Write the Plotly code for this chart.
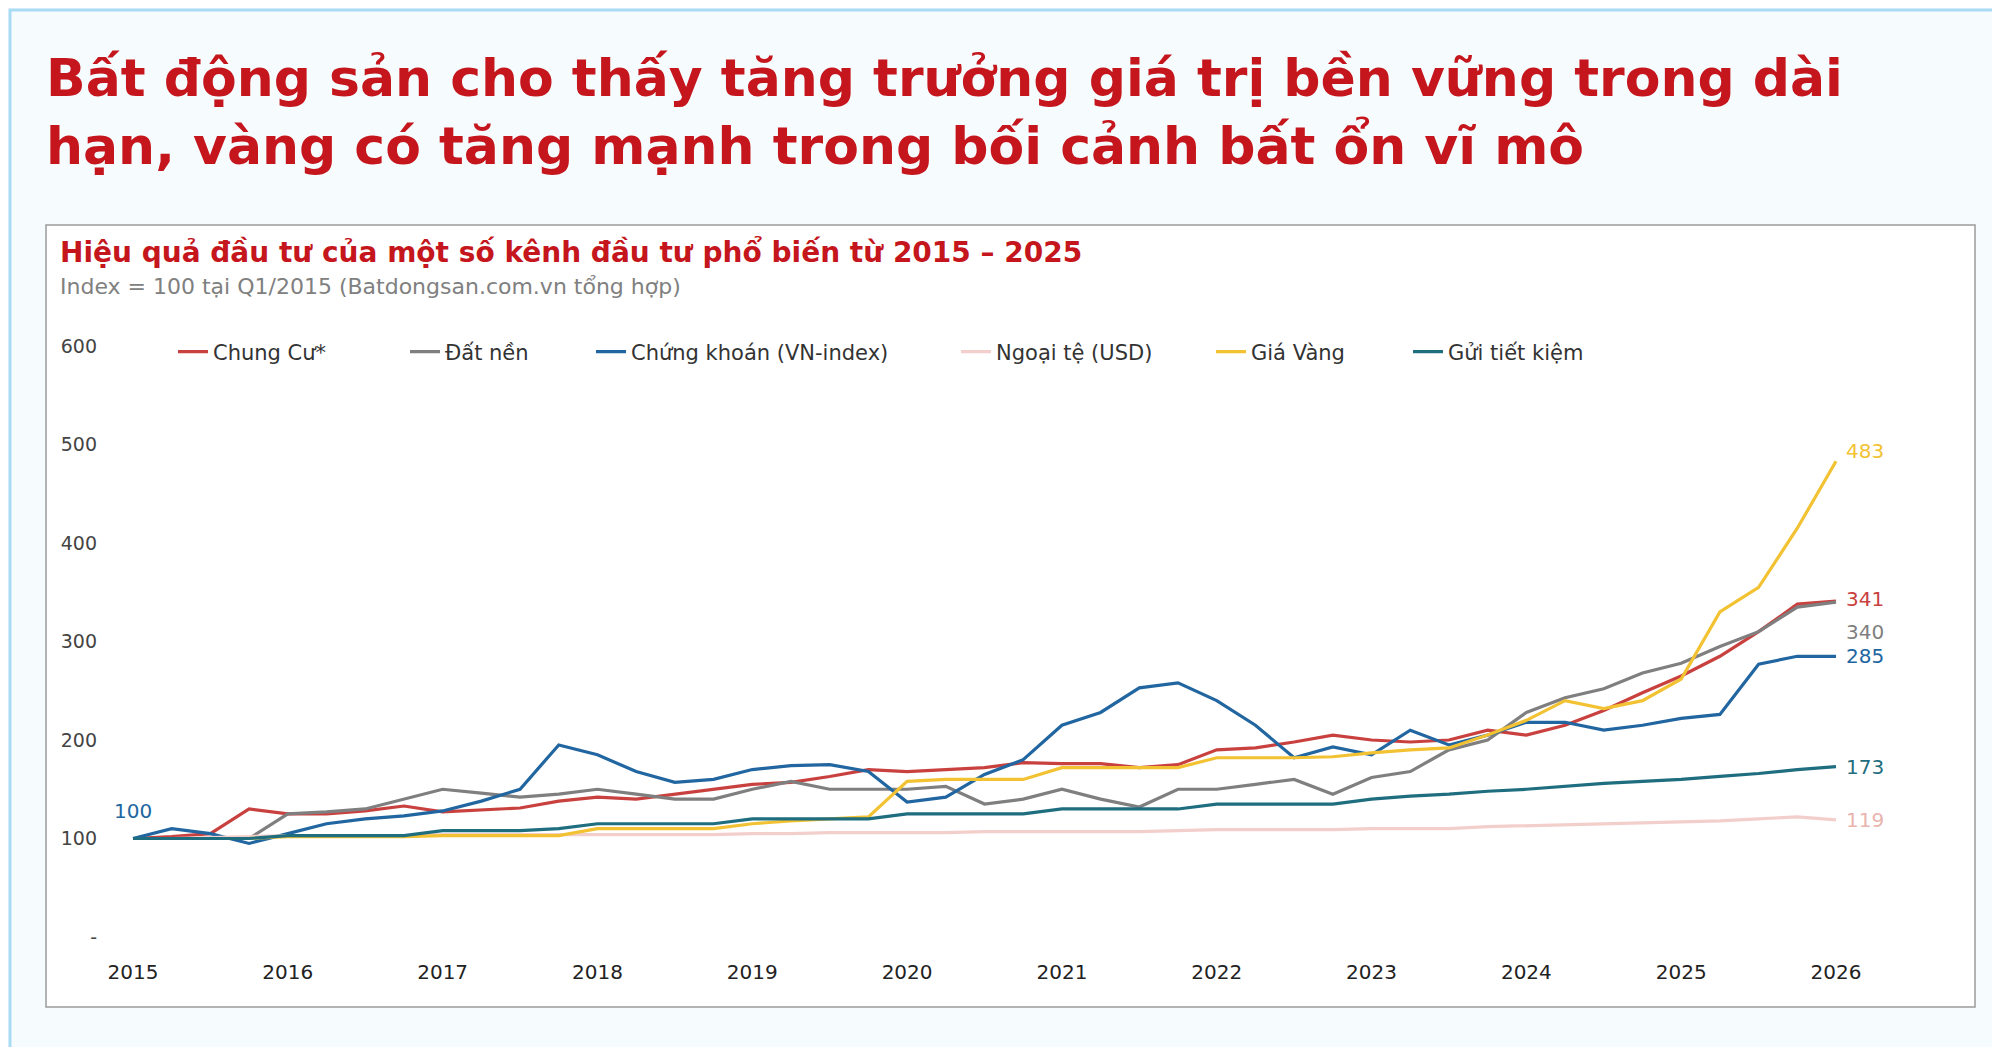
import plotly.graph_objects as go

W, H = 2000, 1047
ML, MR, MT, MB = 90, 100, 300, 97

years = [2015 + i / 4 for i in range(45)]
chung_cu = [100,102,105,130,125,125,128,133,127,129,131,138,142,140,145,150,155,157,163,170,
            168,170,172,177,176,176,172,175,190,192,198,205,200,198,200,210,205,215,230,248,
            265,285,310,338,341]
dat_nen = [100,100,100,100,125,127,130,140,150,146,142,145,150,145,140,140,150,158,150,150,
           150,153,135,140,150,140,132,150,150,155,160,145,162,168,190,200,228,243,252,268,
           278,295,310,335,340]
chung_khoan = [100,110,105,95,105,115,120,123,128,138,150,195,185,168,157,160,170,174,175,168,
               137,142,165,180,215,228,253,258,240,215,182,193,185,210,195,205,218,218,210,215,
               222,226,277,285,285]
ngoai_te = [100,100,101,102,103,103,103,103,104,104,104,104,104,104,104,104,105,105,106,106,
            106,106,107,107,107,107,107,108,109,109,109,109,110,110,110,112,113,114,115,116,
            117,118,120,122,119]
gia_vang = [100,100,100,100,102,102,102,102,103,103,103,103,110,110,110,110,115,118,120,122,
            158,160,160,160,172,172,172,172,182,182,182,183,187,190,192,205,220,240,232,240,
            262,330,355,415,483]
gui_tk = [100,100,100,100,103,103,103,103,108,108,108,110,115,115,115,115,120,120,120,120,
          125,125,125,125,130,130,130,130,135,135,135,135,140,143,145,148,150,153,156,158,
          160,163,166,170,173]

names = ["Chung Cư*", "Đất nền", "Chứng khoán (VN-index)", "Ngoại tệ (USD)", "Giá Vàng", "Gửi tiết kiệm"]
series = [chung_cu, dat_nen, chung_khoan, ngoai_te, gia_vang, gui_tk]
colors = ["#c9413f", "#7f7f7f", "#2166a0", "#f3cfcc", "#f2c232", "#1f6e80"]
end_labels = ["341", "340", "285", "119", "483", "173"]
label_y = [343, 310, 285, 119, 493, 173]
legend_x_px = [165, 397, 583, 948, 1203, 1400]

yticks = [0, 100, 200, 300, 400, 500, 600]
yticktext = ["-", "100", "200", "300", "400", "500", "600"]
xticks = list(range(2015, 2027))

def px(x): return (x - ML) / (W - ML - MR)
def py(y): return (H - MB - y) / (H - MT - MB)

fig = go.Figure()
legends = {}
for k, (n, s, c) in enumerate(zip(names, series, colors)):
    lname = "legend" if k == 0 else f"legend{k+1}"
    fig.add_trace(go.Scatter(x=years, y=s, name=n, mode="lines",
                             line=dict(color=c, width=3.2), legend=lname))
    legends[lname] = dict(orientation="h", x=px(legend_x_px[k]), y=py(344), xanchor="left",
                          yanchor="middle", font=dict(size=21, color="#333", family="DejaVu Sans"),
                          bgcolor="rgba(0,0,0,0)", itemwidth=30)

ann = []
for lab, ly, c in zip(end_labels, label_y, colors):
    ann.append(dict(x=2026.05, y=ly, text=lab, showarrow=False, xanchor="left",
                    font=dict(size=20, color=c if c != "#f3cfcc" else "#eab4ae")))
ann.append(dict(x=2015, y=100, yshift=28, text="100", showarrow=False,
                font=dict(size=20, color="#2166a0")))

ann += [
    dict(xref="paper", yref="paper", x=px(36), y=py(38), xanchor="left", yanchor="top",
         text="<b>Bất động sản cho thấy tăng trưởng giá trị bền vững trong dài<br>hạn, vàng có tăng mạnh trong bối cảnh bất ổn vĩ mô</b>",
         align="left", showarrow=False, font=dict(size=52, color="#c4161c", family="DejaVu Sans")),
    dict(xref="paper", yref="paper", x=px(50), y=py(244), xanchor="left", yanchor="middle",
         text="<b>Hiệu quả đầu tư của một số kênh đầu tư phổ biến từ 2015 – 2025</b>",
         showarrow=False, font=dict(size=28, color="#c4161c", family="DejaVu Sans")),
    dict(xref="paper", yref="paper", x=px(50), y=py(278), xanchor="left", yanchor="middle",
         text="Index = 100 tại Q1/2015 (Batdongsan.com.vn tổng hợp)",
         showarrow=False, font=dict(size=22, color="#808080", family="DejaVu Sans")),
]

shapes = [
    dict(type="rect", xref="paper", yref="paper", x0=px(2), y0=py(2), x1=px(1998), y1=py(1045),
         line=dict(color="#a9dcf3", width=3), fillcolor="rgba(0,0,0,0)", layer="below"),
    dict(type="rect", xref="paper", yref="paper", x0=px(38), y0=py(217), x1=px(1967), y1=py(999),
         line=dict(color="#9a9a9a", width=1.5), fillcolor="white", layer="below"),
]

fig.update_layout(
    width=W, height=H, margin=dict(l=ML, r=MR, t=MT, b=MB),
    paper_bgcolor="#f6fbfe", plot_bgcolor="rgba(0,0,0,0)",
    font=dict(family="DejaVu Sans", color="#333"),
    showlegend=True,
    annotations=ann, shapes=shapes,
    xaxis=dict(range=[2014.774, 2026.465], tickvals=xticks, showgrid=False, zeroline=False,
               showline=False, tickfont=dict(size=20, color="#222"), ticks=""),
    yaxis=dict(range=[-21.3, 638.6], tickvals=yticks, ticktext=yticktext, showgrid=False,
               zeroline=False, showline=False, tickfont=dict(size=19, color="#444"), ticks=""),
    **legends,
)
fig.write_html("out.html")
